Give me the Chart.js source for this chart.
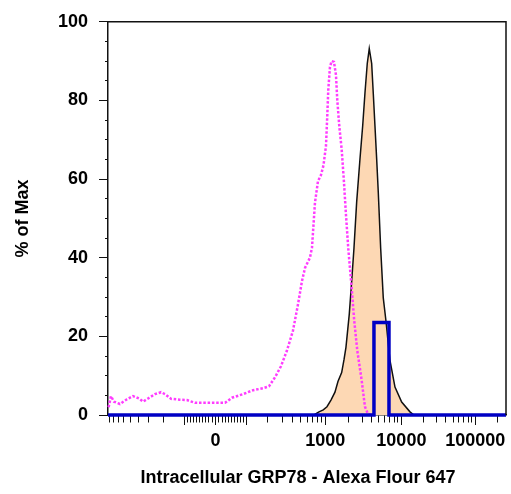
<!DOCTYPE html>
<html>
<head>
<meta charset="utf-8">
<script src="https://cdn.jsdelivr.net/npm/chart.js@4.4.0/dist/chart.umd.min.js"></script>
<style>
  html, body { margin: 0; padding: 0; background: #fff; }
  canvas { display: block; }
</style>
</head>
<body>
<canvas id="histo" width="511" height="494"></canvas>
<script>
// control (isotype) histogram, dotted magenta
const isoX = [-920, -860, -789, -665, -546, -462, -391, -350, -305, -252, -212, -189, -158, -119, -92,
  -64, 0, 29, 51, 88, 127, 173, 207, 245, 289, 341, 402, 462, 516, 562, 646, 684, 745, 812, 884,
  951, 1022, 1061, 1093, 1148, 1206, 1291, 1369, 1422, 1509, 1620, 1735, 1841, 1972, 2185, 2362,
  2586, 2955, 3265, 3578, 4042];
const isoY = [2, 4.8, 3.4, 2.8, 4, 4.8, 4.2, 3.4, 4.2, 5.3, 5.8, 5.3, 4.1, 3.9, 3.8,
  3.1, 3.1, 3.1, 4.4, 5.3, 6.3, 6.8, 7.3, 9.6, 12.4, 16.4, 21.4, 28.1, 34, 37.4, 40, 42.5, 54, 59.5, 61,
  63.5, 68.4, 76, 82.7, 88.5, 90, 89.8, 86.5, 80.2, 73.5, 67.6, 59.2, 51, 42.4, 32.3, 23.9,
  16.4, 8.8, 2.1, 0.3, 0];

// stained sample, filled peach
const sampleX = [724, 835, 945, 1052, 1182, 1329, 1452, 1620, 1735, 1841, 2032, 2185, 2341, 2540,
  2806, 3045, 3265, 3502, 3722, 4006, 4205, 4431, 4668, 4903, 5278, 5717, 6213, 7030, 8204, 10095,
  13058, 14785];
const sampleY = [0, 0.8, 1.3, 2.1, 3.8, 5.8, 8.5, 10.8, 14, 17.2, 25.6, 34, 42.4, 54.2,
  65.1, 73.5, 81.9, 89.4, 93.2, 89.4, 81.9, 73.5, 65.1, 56.7, 42.4, 29.8, 23.9, 13.9, 7.1, 3.3,
  0.8, 0];

// third sample, blue outline
const markerX = [-1000, 4296, 4296, 6816, 6816, 262144];
const markerY = [0, 0, 23.5, 23.5, 0, 0];

// x axis ticks
const xLabeled = [0, 1000, 10000, 100000];
const xLong = [-100, 0, 100, 1000, 10000, 100000];
const xDecades = [10, 100, 1000, 10000, 100000];
const xTickValues = [0];
xDecades.forEach(d => {
  for (let m = 1; m <= 9; m++) {
    xTickValues.push(m * d);
    if (d <= 100) xTickValues.push(-m * d);
  }
});
xTickValues.sort((a, b) => a - b);

const pts = (xs, ys) => xs.map((x, i) => ({ x: x, y: ys[i] }));

// biexponential (logicle) transform, Parks/Moore form
function makeLogicle(T, W, M, A) {
  const w = W / (M + A), x2 = A / (M + A), x1 = x2 + w, x0 = x2 + 2 * w;
  const b = (M + A) * Math.LN10;
  let lo = 1e-9, hi = b;
  for (let i = 0; i < 80; i++) {
    const d = (lo + hi) / 2;
    const g = 2 * (Math.log(d) - Math.log(b)) + w * (b + d);
    if (g < 0) lo = d; else hi = d;
  }
  const d = (lo + hi) / 2;
  const ca = Math.exp(x0 * (b + d));
  const mfa = Math.exp(b * x1) - ca / Math.exp(d * x1);
  const a = T / ((Math.exp(b) - mfa) - ca / Math.exp(d));
  const c = ca * a, f = -mfa * a;
  const inverse = (y) => {
    const neg = y < x1;
    const s = neg ? 2 * x1 - y : y;
    const v = a * Math.exp(b * s) - c * Math.exp(-d * s) + f;
    return neg ? -v : v;
  };
  const scale = (v) => {
    let l = -1, h = 2;
    for (let i = 0; i < 60; i++) {
      const m = (l + h) / 2;
      if (inverse(m) < v) l = m; else h = m;
    }
    return (l + h) / 2;
  };
  return { scale, inverse };
}

class LogicleScale extends Chart.Scale {
  static id = 'logicle';
  static defaults = {};

  parse(raw) {
    return raw === null || raw === undefined ? NaN : +raw;
  }
  determineDataLimits() {
    const o = this.options;
    this._lg = makeLogicle(o.T, o.W, o.M, o.A);
    this.min = this._lg.inverse(0);
    this.max = o.T;
  }
  buildTicks() {
    return xTickValues
      .filter(v => v >= this.min && v <= this.max)
      .map(v => ({ value: v }));
  }
  getLabelForValue(v) {
    return String(v);
  }
  getPixelForValue(v) {
    return this.getPixelForDecimal(this._lg.scale(v));
  }
  getValueForPixel(p) {
    return this._lg.inverse(this.getDecimalForPixel(p));
  }
  getPixelForTick(i) {
    const t = this.ticks[i];
    return t ? this.getPixelForValue(t.value) : NaN;
  }
}
Chart.register(LogicleScale);

const boxFrame = {
  id: 'boxFrame',
  afterDraw(chart) {
    const { ctx, chartArea: a } = chart;
    ctx.save();
    ctx.strokeStyle = '#111';
    ctx.lineWidth = 1.5;
    ctx.beginPath();
    ctx.moveTo(a.left, a.top);
    ctx.lineTo(a.right, a.top);
    ctx.lineTo(a.right, a.bottom);
    ctx.stroke();
    ctx.restore();
  }
};

const font = 'Liberation Sans, Arial, Helvetica, sans-serif';

new Chart(document.getElementById('histo'), {
  type: 'line',
  data: {
    datasets: [
      {
        data: pts(markerX, markerY),
        borderColor: '#0000c4',
        borderWidth: 3.5,
        borderJoinStyle: 'miter',
        pointRadius: 0,
        fill: false,
        clip: { left: 0, right: 0, top: 0, bottom: 4 },
        order: 0
      },
      {
        data: pts(isoX, isoY),
        borderColor: '#ff3cff',
        borderWidth: 2.5,
        borderDash: [2.5, 1.8],
        pointRadius: 0,
        fill: false,
        order: 1
      },
      {
        data: pts(sampleX, sampleY),
        borderColor: '#111',
        borderWidth: 1.5,
        backgroundColor: '#fdd8b4',
        pointRadius: 0,
        fill: 'origin',
        order: 2
      }
    ]
  },
  options: {
    responsive: false,
    devicePixelRatio: 1,
    animation: false,
    layout: { padding: { left: 0, top: 18, right: 5, bottom: 0 } },
    plugins: {
      legend: { display: false },
      tooltip: { enabled: false }
    },
    scales: {
      x: {
        type: 'logicle',
        T: 262144, W: 0.5, M: 4.452, A: 0.962,
        afterFit: (axis) => { axis.height = 79; },
        border: { display: true, color: '#111', width: 1.5 },
        grid: {
          drawOnChartArea: false,
          drawTicks: true,
          tickLength: 10,
          tickColor: '#111',
          tickWidth: 1,
          tickBorderDash: (ctx) => xLong.includes(ctx.tick.value) ? [] : [7, 20]
        },
        ticks: {
          autoSkip: false,
          maxRotation: 0,
          minRotation: 0,
          padding: 5,
          color: '#000',
          font: { family: font, size: 18, weight: 'bold' },
          callback: (v) => xLabeled.includes(v) ? String(v) : ''
        },
        title: {
          display: true,
          // trailing en spaces nudge the centred title a little to the left
          text: 'Intracellular GRP78 - Alexa Flour 647\u2002\u2002',
          color: '#000',
          font: { family: font, size: 18, weight: 'bold' },
          padding: { top: 0, bottom: 5 }
        }
      },
      y: {
        type: 'linear',
        min: 0,
        max: 100,
        afterFit: (axis) => { axis.width = 108; },
        border: { display: true, color: '#111', width: 1.5 },
        grid: {
          drawOnChartArea: false,
          drawTicks: true,
          tickLength: 9,
          tickColor: '#111',
          tickWidth: 1,
          tickBorderDash: (ctx) => ctx.tick.value % 20 === 0 ? [] : [0, 6, 3, 20]
        },
        ticks: {
          stepSize: 5,
          autoSkip: false,
          padding: 11,
          color: '#000',
          font: { family: font, size: 18, weight: 'bold' },
          callback: (v) => v % 20 === 0 ? String(v) : ''
        },
        title: {
          display: true,
          text: '% of Max',
          color: '#000',
          font: { family: font, size: 18, weight: 'bold' },
          padding: { top: 12, bottom: 0 }
        }
      }
    }
  },
  plugins: [boxFrame]
});
</script>
</body>
</html>
